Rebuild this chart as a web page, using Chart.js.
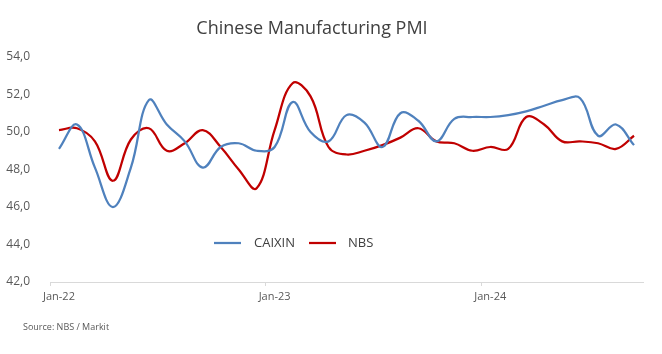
<!DOCTYPE html>
<html>
<head>
<meta charset="utf-8">
<script src="https://cdn.jsdelivr.net/npm/chart.js@4/dist/chart.umd.min.js"></script>
<style>
  html, body { margin: 0; padding: 0; background: #ffffff; }
  #wrap { position: relative; width: 662px; height: 354px; }
</style>
</head>
<body>
<div id="wrap"><canvas id="c" width="662" height="354"></canvas></div>
<script>
const months = [
  'Jan-22','Feb-22','Mar-22','Apr-22','May-22','Jun-22','Jul-22','Aug-22','Sep-22','Oct-22','Nov-22','Dec-22',
  'Jan-23','Feb-23','Mar-23','Apr-23','May-23','Jun-23','Jul-23','Aug-23','Sep-23','Oct-23','Nov-23','Dec-23',
  'Jan-24','Feb-24','Mar-24','Apr-24','May-24','Jun-24','Jul-24','Aug-24','Sep-24'
];
const caixin = [
  49.1, 50.4, 48.1, 46.0, 48.1, 51.7, 50.4, 49.5, 48.1, 49.2, 49.4, 49.0,
  49.2, 51.6, 50.0, 49.5, 50.9, 50.5, 49.2, 51.0, 50.6, 49.5, 50.7, 50.8,
  50.8, 50.9, 51.1, 51.4, 51.7, 51.8, 49.8, 50.4, 49.3
];
const nbs = [
  50.1, 50.2, 49.5, 47.4, 49.6, 50.2, 49.0, 49.4, 50.1, 49.2, 48.0, 47.0,
  50.1, 52.6, 51.9, 49.2, 48.8, 49.0, 49.3, 49.7, 50.2, 49.5, 49.4, 49.0,
  49.2, 49.1, 50.8, 50.4, 49.5, 49.5, 49.4, 49.1, 49.8
];
const titleText = 'Chinese Manufacturing PMI';
const sourceText = 'Source: NBS / Markit';
const FONT = '"Open Sans", "DejaVu Sans", sans-serif';

const overlay = {
  id: 'overlay',
  afterDraw(chart) {
    const ctx = chart.ctx;
    ctx.save();
    // title
    ctx.fillStyle = '#404040';
    ctx.font = '18px ' + FONT;
    ctx.textAlign = 'center';
    ctx.textBaseline = 'middle';
    ctx.fillText(titleText, 312, 29);
    // source
    ctx.fillStyle = '#595959';
    ctx.font = '9px ' + FONT;
    ctx.textAlign = 'left';
    ctx.fillText(sourceText, 23, 327);
    // legend
    const items = [
      {x: 214, tx: 254},
      {x: 309, tx: 348}
    ];
    ctx.font = '13px ' + FONT;
    chart.data.datasets.forEach((ds, i) => {
      const it = items[i];
      ctx.strokeStyle = ds.borderColor;
      ctx.lineWidth = 2.25;
      ctx.beginPath();
      ctx.moveTo(it.x, 243);
      ctx.lineTo(it.x + 27, 243);
      ctx.stroke();
      ctx.fillStyle = '#404040';
      ctx.fillText(ds.label, it.tx, 243);
    });
    ctx.restore();
  }
};

new Chart(document.getElementById('c'), {
  type: 'line',
  data: {
    labels: months,
    datasets: [
      { label: 'CAIXIN', data: caixin, borderColor: '#4F81BD', borderWidth: 2.25, pointRadius: 0, tension: 0.4, fill: false },
      { label: 'NBS', data: nbs, borderColor: '#C00000', borderWidth: 2.25, pointRadius: 0, tension: 0.4, fill: false }
    ]
  },
  options: {
    responsive: false,
    animation: false,
    layout: { padding: { top: 57, right: 19, left: 0, bottom: 0 } },
    plugins: { legend: { display: false }, title: { display: false }, tooltip: { enabled: false } },
    scales: {
      x: {
        offset: true,
        grid: {
          offset: true,
          drawOnChartArea: false,
          drawTicks: true,
          tickLength: 4,
          color: (c) => (c.index % 12 === 0 ? '#d9d9d9' : 'rgba(0,0,0,0)')
        },
        border: { display: true, color: '#d9d9d9', width: 1 },
        ticks: {
          autoSkip: false,
          maxRotation: 0,
          padding: 4,
          color: '#595959',
          font: { family: FONT, size: 11 },
          callback: function (v, i) { return i % 12 === 0 ? months[i] : ''; }
        },
        afterFit: (s) => { s.height = 72; }
      },
      y: {
        min: 42,
        max: 54,
        grid: { display: false },
        border: { display: false },
        ticks: {
          stepSize: 2,
          padding: 12,
          color: '#595959',
          font: { family: FONT, size: 12 },
          callback: (v) => v.toFixed(1).replace('.', ',')
        },
        afterFit: (s) => { s.width = 50; }
      }
    }
  },
  plugins: [overlay]
});
</script>
</body>
</html>
